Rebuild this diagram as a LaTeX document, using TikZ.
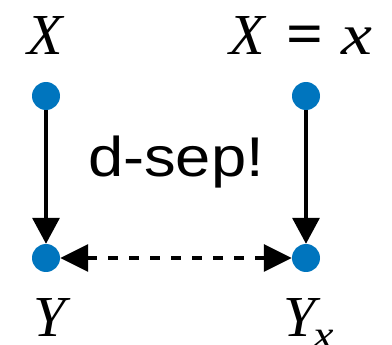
\documentclass[tikz,border=0pt]{standalone}
\usepackage{fontspec}
\setmainfont{Liberation Serif}
\setsansfont{Liberation Sans}
\usetikzlibrary{arrows.meta}
\definecolor{dotblue}{RGB}{0,117,190}
\tikzset{
  dotnode/.style={circle,fill=dotblue,inner sep=0pt,minimum size=28pt},
  lbl/.style={font=\fontsize{58}{60}\selectfont\itshape,inner sep=0pt,anchor=base},
  conn/.style={line width=3.5pt,-{Triangle[width=27pt,length=26pt]}},
  dconn/.style={line width=3.5pt,dash pattern=on 10pt off 11pt,{Triangle[width=27pt,length=28pt]}-{Triangle[width=27pt,length=28pt]}}
}
\begin{document}
\begin{tikzpicture}[x=1pt,y=-1pt]
\useasboundingbox (0,0) rectangle (392,345);
\node[dotnode] (x1) at (46,96) {};
\node[dotnode] (x2) at (306,96) {};
\node[dotnode] (y1) at (46,258) {};
\node[dotnode] (y2) at (306,258) {};
\node[lbl] (lx1) at (45,55) {X};
\node[lbl,anchor=base west] (lx2) at (229,55) {X\kern22pt{\upshape\bfseries\scalebox{1.12}[1.05]{=}}\kern18pt\scalebox{1.2}[1]{x}};
\node[lbl] (ly1) at (50,337) {Y};
\node[lbl,anchor=base west] (ly2) at (283,337) {Y\kern-2pt\raisebox{-12pt}{\fontsize{40}{40}\selectfont\scalebox{1.15}[1]{x}}};
\node[font=\sffamily\fontsize{56}{60}\selectfont,inner sep=0pt,anchor=base] (ds) at (176,177) {\scalebox{1.13}[1]{d-sep!}};
\draw[conn] (x1) -- (y1);
\draw[conn] (x2) -- (y2);
\draw[dconn] (y1) -- (y2);
\end{tikzpicture}
\end{document}
